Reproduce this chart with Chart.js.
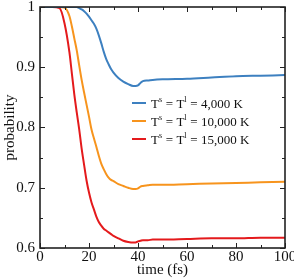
<!DOCTYPE html>
<html>
<head>
<meta charset="utf-8">
<script src="https://cdn.jsdelivr.net/npm/chart.js@4"></script>
<style>
  html, body { margin: 0; padding: 0; background: #fff; }
  #wrap { width: 294px; height: 278px; }
</style>
</head>
<body>
<div id="wrap"><canvas id="chart1" width="294" height="278"></canvas></div>
<script>
// time axis (fs), shared by the three curves
const timeFs = [0, 5, 8, 10, 12, 13, 14, 15, 16, 17, 18, 19, 20, 21, 22, 23, 24, 25, 26, 27, 28, 29, 30,
  32, 34, 36, 38, 39, 40, 41, 42, 44, 46, 50, 60, 70, 80, 90, 100];

// probability for each temperature
const prob4000 = [1, 1, 1, 1, 1, 1, 1, 1, 0.998, 0.996, 0.993, 0.989, 0.984, 0.978, 0.972, 0.964, 0.953, 0.940,
  0.926, 0.914, 0.905, 0.897, 0.891, 0.882, 0.876, 0.872, 0.869, 0.869, 0.870, 0.874, 0.877, 0.878, 0.879,
  0.880, 0.881, 0.883, 0.885, 0.886, 0.887];
const prob10000 = [1, 1, 1, 0.999, 0.985, 0.968, 0.948, 0.928, 0.903, 0.879, 0.858, 0.838, 0.818, 0.797,
  0.782, 0.768, 0.753, 0.740, 0.731, 0.723, 0.717, 0.713, 0.711, 0.706, 0.703, 0.700, 0.698, 0.698, 0.699,
  0.702, 0.703, 0.704, 0.705, 0.705, 0.706, 0.707, 0.708, 0.709, 0.710];
const prob15000 = [1, 1, 0.998, 0.973, 0.925, 0.890, 0.855, 0.825, 0.797, 0.765, 0.738, 0.712, 0.692, 0.676,
  0.664, 0.652, 0.643, 0.637, 0.632, 0.629, 0.626, 0.623, 0.620, 0.616, 0.612, 0.610, 0.609, 0.609, 0.611,
  0.612, 0.613, 0.613, 0.614, 0.614, 0.615, 0.616, 0.616, 0.617, 0.617];

const seriesTemps = ['4,000', '10,000', '15,000'];
const seriesColors = ['#3d80c0', '#f7941d', '#e41a1c'];

const xTicks = [0, 20, 40, 60, 80, 100];
const yTicks = [0.6, 0.7, 0.8, 0.9, 1];

const SERIF = "'Liberation Serif', 'DejaVu Serif', serif";
const AXIS_COLOR = '#222';

function toPoints(ys) {
  return timeFs.map((t, i) => ({ x: t, y: ys[i] }));
}

// no extra room for overhanging tick labels: layout padding decides the plot box
function noScalePadding(scale) {
  scale.paddingLeft = 0;
  scale.paddingRight = 0;
  scale.paddingTop = 0;
  scale.paddingBottom = 0;
}

// box + inward ticks (major and minor) on all four sides
const frameTicks = {
  id: 'frameTicks',
  afterDatasetsDraw(chart) {
    const { ctx, chartArea: a, scales } = chart;
    const xs = scales.x, ys = scales.y;
    ctx.save();
    ctx.strokeStyle = AXIS_COLOR;
    ctx.lineWidth = 1;
    ctx.beginPath();
    for (let v = 0; v <= 100; v += 10) {
      const px = Math.round(xs.getPixelForValue(v)) + 0.5;
      const len = v % 20 === 0 ? 5 : 3;
      ctx.moveTo(px, a.bottom); ctx.lineTo(px, a.bottom - len);
      ctx.moveTo(px, a.top); ctx.lineTo(px, a.top + len);
    }
    for (let k = 0; k <= 8; k++) {
      const v = 0.6 + k * 0.05;
      const py = Math.round(ys.getPixelForValue(v)) + 0.5;
      const len = k % 2 === 0 ? 5 : 3;
      ctx.moveTo(a.left, py); ctx.lineTo(a.left + len, py);
      ctx.moveTo(a.right, py); ctx.lineTo(a.right - len, py);
    }
    ctx.stroke();
    ctx.lineWidth = 1.6;
    ctx.strokeRect(a.left, a.top, a.right - a.left, a.bottom - a.top);
    ctx.restore();
  }
};

// legend with superscripts, drawn inside the plot
const supLegend = {
  id: 'supLegend',
  afterDatasetsDraw(chart) {
    const { ctx, chartArea: a } = chart;
    const x0 = a.left + 92, y0 = a.top + 96, rowH = 18;
    ctx.save();
    ctx.textBaseline = 'alphabetic';
    ctx.fillStyle = '#111';
    seriesTemps.forEach((temp, i) => {
      const y = y0 + i * rowH;
      ctx.strokeStyle = seriesColors[i];
      ctx.lineWidth = 2;
      ctx.beginPath();
      ctx.moveTo(x0, y); ctx.lineTo(x0 + 14, y);
      ctx.stroke();
      let x = x0 + 19;
      const base = y + 4.5;
      const parts = [['T', 0], ['s', 1], [' = T', 0], ['l', 1], [' = ' + temp + ' K', 0]];
      parts.forEach(([txt, sup]) => {
        ctx.font = (sup ? '8px ' : '13px ') + SERIF;
        ctx.fillText(txt, x, sup ? base - 6 : base);
        x += ctx.measureText(txt).width + (sup ? 0.5 : 0);
      });
    });
    ctx.restore();
  }
};

const ctx = document.getElementById('chart1').getContext('2d');
new Chart(ctx, {
  type: 'line',
  data: {
    datasets: [prob4000, prob10000, prob15000].map((ys, i) => ({
      label: seriesTemps[i],
      data: toPoints(ys),
      borderColor: seriesColors[i],
      borderWidth: 2,
      pointRadius: 0,
      fill: false,
      cubicInterpolationMode: 'monotone'
    }))
  },
  options: {
    responsive: false,
    animation: false,
    events: [],
    layout: { padding: { left: 0, top: 7, right: 9, bottom: 0 } },
    plugins: { legend: { display: false }, tooltip: { enabled: false } },
    scales: {
      x: {
        type: 'linear',
        min: 0,
        max: 100,
        afterBuildTicks(scale) { scale.ticks = xTicks.map(v => ({ value: v })); },
        afterFit(scale) { scale.height = 30; noScalePadding(scale); },
        grid: { display: false, drawTicks: false },
        border: { display: false },
        ticks: { color: '#111', padding: 0, maxRotation: 0, font: { family: SERIF, size: 15 } },
        title: { display: true, text: 'time (fs)', color: '#111', padding: { top: 0, bottom: 0 },
          font: { family: SERIF, size: 15, lineHeight: 1.1 } }
      },
      y: {
        type: 'linear',
        min: 0.6,
        max: 1,
        afterBuildTicks(scale) { scale.ticks = yTicks.map(v => ({ value: v })); },
        afterFit(scale) { scale.width = 40; noScalePadding(scale); },
        grid: { display: false, drawTicks: false },
        border: { display: false },
        ticks: {
          color: '#111', padding: 5, font: { family: SERIF, size: 15 },
          callback: v => String(+v.toFixed(2))
        },
        title: { display: true, text: 'probability', color: '#111', padding: { top: 1, bottom: 0 },
          font: { family: SERIF, size: 15 } }
      }
    }
  },
  plugins: [frameTicks, supLegend]
});
</script>
</body>
</html>
